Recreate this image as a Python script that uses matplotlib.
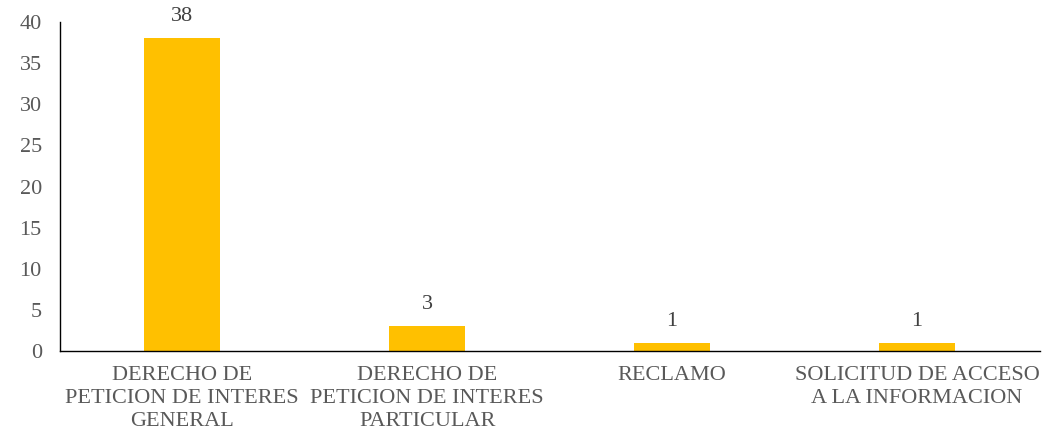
import matplotlib.pyplot as plt

categorias = ["DERECHO DE\nPETICION DE INTERES\nGENERAL",
              "DERECHO DE\nPETICION DE INTERES\nPARTICULAR",
              "RECLAMO",
              "SOLICITUD DE ACCESO\nA LA INFORMACION"]
valores = [38, 3, 1, 1]
y_ticks = [0, 5, 10, 15, 20, 25, 30, 35, 40]

plt.rcParams['font.family'] = ['Liberation Serif', 'DejaVu Serif']

fig = plt.figure(figsize=(10.5, 4.4), dpi=100)
ax = fig.add_axes([0.057, 0.202, 0.933, 0.748])

x = range(len(categorias))
barras = ax.bar(x, valores, width=0.31, color='#FFC000', zorder=2)

# Etiquetas sobre las barras
for b, v in zip(barras, valores):
    ax.text(b.get_x() + b.get_width() / 2, v + 1.5, str(v),
            ha='center', va='bottom', fontsize=16, color='#404040')

ax.set_xlim(-0.5, 3.5)
ax.set_ylim(0, 40)
ax.set_yticks(y_ticks)
ax.set_xticks(list(x))
ax.set_xticklabels(categorias, fontsize=16, color='#595959', linespacing=1.26)
ax.tick_params(axis='y', labelsize=16, labelcolor='#595959', length=0, pad=13)
ax.tick_params(axis='x', length=0, pad=11)

for s in ['top', 'right']:
    ax.spines[s].set_visible(False)
ax.spines['left'].set_color('#000000')
ax.spines['bottom'].set_color('#000000')
ax.spines['left'].set_linewidth(1.0)
ax.spines['bottom'].set_linewidth(1.0)

fig.savefig('out.png', dpi=100)
